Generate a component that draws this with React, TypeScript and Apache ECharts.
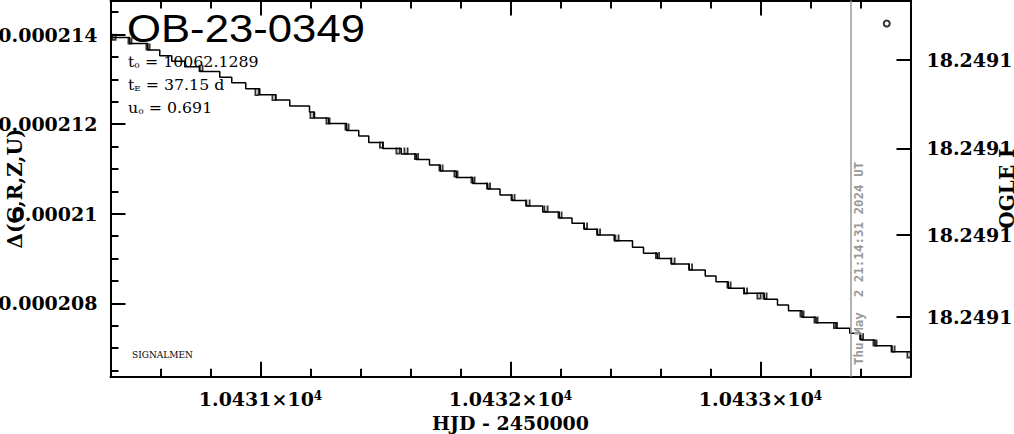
import React, { useEffect, useRef } from 'react';
import * as echarts from 'echarts';

// ---- data ----
const eventName = 'OB-23-0349';
const paramLines: [string, string, string][] = [
  ['t', '0', ' = 10062.1289'],
  ['t', 'E', ' = 37.15 d'],
  ['u', '0', ' = 0.691'],
];
const creditText = 'SIGNALMEN';
const nowDay = 10433.357;
const nowLabel = 'Thu May  2 21:14:31 2024 UT';
const xAxisTitle = 'HJD - 2450000';
const yAxisTitle = 'Δ(G,R,Z,U)';
const rightAxisTitle = 'OGLE I';

// model curve (quantised, drawn as steps): start day of each level and its value
const stepDays = [
  10430.4, 10430.477, 10430.549, 10430.597, 10430.645, 10430.697, 10430.757, 10430.837,
  10430.885, 10430.941, 10430.997, 10431.061, 10431.117, 10431.196, 10431.216, 10431.272,
  10431.344, 10431.393, 10431.433, 10431.489, 10431.563, 10431.623, 10431.676, 10431.719,
  10431.783, 10431.849, 10431.909, 10431.958, 10432.006, 10432.062, 10432.129, 10432.195,
  10432.246, 10432.295, 10432.348, 10432.415, 10432.488, 10432.532, 10432.587, 10432.643,
  10432.715, 10432.779, 10432.822, 10432.871, 10432.935, 10433.015, 10433.068, 10433.112,
  10433.166, 10433.222, 10433.302, 10433.357, 10433.401, 10433.458, 10433.526, 10433.6,
];
const stepFlux = [
  0.000213935, 0.000213801, 0.000213652, 0.000213529, 0.000213406, 0.000213283, 0.000213172, 0.000213049,
  0.000212926, 0.000212792, 0.000212658, 0.000212536, 0.000212402, 0.000212268, 0.000212134, 0.000212011,
  0.000211855, 0.000211732, 0.000211592, 0.000211458, 0.00021133, 0.000211212, 0.000211085, 0.000210951,
  0.00021081, 0.000210676, 0.000210549, 0.000210415, 0.000210297, 0.00021017, 0.000210036, 0.000209902,
  0.000209784, 0.00020965, 0.000209522, 0.000209395, 0.000209248, 0.000209114, 0.000209002, 0.000208875,
  0.000208741, 0.000208607, 0.00020848, 0.000208333, 0.000208221, 0.000208087, 0.00020796, 0.000207833,
  0.000207685, 0.000207565, 0.00020744, 0.000207328, 0.000207179, 0.000207051, 0.000206917, 0.000206917,
];

// small data marks sitting on the steps
const markDays = [
  10430.414, 10430.478, 10430.55, 10430.762, 10430.986, 10431.054, 10431.206, 10431.27,
  10431.346, 10431.484, 10431.55, 10431.582, 10431.624, 10431.722, 10431.782, 10431.85,
  10431.912, 10432.01, 10432.07, 10432.142, 10432.198, 10432.3, 10432.352, 10432.426,
  10432.588, 10432.65, 10432.72, 10432.874, 10432.94, 10432.994, 10433.018, 10433.166,
  10433.222, 10433.3, 10433.404, 10433.458, 10433.53, 10433.594,
];
const markFlux = [
  0.000213942, 0.000213853, 0.000213719, 0.00021325, 0.000212703, 0.000212592, 0.00021219, 0.000212067,
  0.000211933, 0.000211531, 0.000211397, 0.000211397, 0.000211275, 0.000211018, 0.000210884, 0.00021075,
  0.000210616, 0.000210359, 0.000210237, 0.000210103, 0.000209969, 0.000209723, 0.000209589, 0.000209455,
  0.000209065, 0.000208942, 0.000208808, 0.000208406, 0.000208272, 0.000208161, 0.000208161, 0.000207759,
  0.000207625, 0.000207502, 0.000207257, 0.000207112, 0.000206978, 0.000206844,
];

const latestPoint: [number, number] = [10433.505, 0.000214248];

// axes
const xMin = 10430.4;
const xMax = 10433.6;
const yMin = 0.00020636;
const yMax = 0.00021476;
const xMajorTicks = [10431, 10432, 10433];
const xMinorTicks = [
  10430.6, 10430.8, 10431.2, 10431.4, 10431.6, 10431.8,
  10432.2, 10432.4, 10432.6, 10432.8, 10433.2, 10433.4,
];
const yMajorTicks = [0.000208, 0.00021, 0.000212, 0.000214];
const yMinorTicks = [
  0.0002065, 0.000207, 0.0002075, 0.0002085, 0.000209, 0.0002095, 0.0002105,
  0.000211, 0.0002115, 0.0002125, 0.000213, 0.0002135, 0.0002145,
];
const magMin = 18.24905;
const magMax = 18.24915;
const magTicks = [18.2490658, 18.2490893, 18.2491123, 18.2491341];

// ---- styles ----
const SERIF = "'DejaVu Serif', serif";
const BLACK = '#000';
const tickLine = { color: BLACK, width: 2 };
const labelFont = { fontFamily: SERIF, fontWeight: 'bold' as const, fontSize: 19, color: BLACK };

const markSymbol = 'path://M0,0h2.2v8h-2.2zM3.8,0h2.2v8h-2.2zM0,6h6v2h-6z';

function buildOption(): any {
  const lineData = stepDays.map((d, i) => [d, stepFlux[i]]);
  const markData = markDays.map((d, i) => [d, markFlux[i]]);

  const baseX = { type: 'value', min: xMin, max: xMax, splitLine: { show: false } };
  const baseY = { type: 'value', min: yMin, max: yMax, splitLine: { show: false } };

  return {
    animation: false,
    backgroundColor: '#fff',
    grid: {
      left: 110.5,
      right: 103.5,
      top: 0.5,
      bottom: 57.3,
      containLabel: false,
      outerBoundsMode: 'none',
    },
    xAxis: [
      {
        ...baseX,
        position: 'bottom',
        axisLine: { show: true, onZero: false, lineStyle: { color: BLACK, width: 2 } },
        axisTick: { show: true, inside: true, length: 15, customValues: xMajorTicks, lineStyle: tickLine },
        axisLabel: {
          show: true,
          customValues: xMajorTicks,
          margin: 13,
          formatter: (v: number) => `{m|${(v / 1e4).toFixed(4)}×10}{e|4}`,
          rich: {
            m: { ...labelFont },
            e: { fontFamily: SERIF, fontWeight: 'bold', fontSize: 12, color: BLACK, verticalAlign: 'top' },
          },
        },
        name: xAxisTitle,
        nameLocation: 'middle',
        nameGap: 37,
        nameMoveOverlap: false,
        nameTextStyle: { ...labelFont },
      },
      {
        ...baseX,
        position: 'bottom',
        axisLine: { show: false },
        axisTick: { show: true, inside: true, length: 8, customValues: xMinorTicks, lineStyle: tickLine },
        axisLabel: { show: false },
      },
      {
        ...baseX,
        position: 'top',
        axisLine: { show: true, onZero: false, lineStyle: { color: BLACK, width: 2 } },
        axisTick: { show: true, inside: true, length: 15, customValues: xMajorTicks, lineStyle: tickLine },
        axisLabel: { show: false },
      },
      {
        ...baseX,
        position: 'top',
        axisLine: { show: false },
        axisTick: { show: true, inside: true, length: 8, customValues: xMinorTicks, lineStyle: tickLine },
        axisLabel: { show: false },
      },
    ],
    yAxis: [
      {
        ...baseY,
        position: 'left',
        axisLine: { show: true, onZero: false, lineStyle: { color: BLACK, width: 2 } },
        axisTick: { show: true, inside: true, length: 15, customValues: yMajorTicks, lineStyle: tickLine },
        axisLabel: {
          show: true,
          customValues: yMajorTicks,
          margin: 13,
          formatter: (v: number) => String(v),
          ...labelFont,
        },
        name: yAxisTitle,
        nameLocation: 'middle',
        nameRotate: 90,
        nameGap: 86,
        nameMoveOverlap: false,
        nameTextStyle: { ...labelFont, fontSize: 20 },
      },
      {
        ...baseY,
        position: 'left',
        axisLine: { show: false },
        axisTick: { show: true, inside: true, length: 8, customValues: yMinorTicks, lineStyle: tickLine },
        axisLabel: { show: false },
      },
      {
        type: 'value',
        position: 'right',
        inverse: true,
        min: magMin,
        max: magMax,
        splitLine: { show: false },
        axisLine: { show: true, onZero: false, lineStyle: { color: BLACK, width: 2 } },
        axisTick: { show: true, inside: true, length: 14, customValues: magTicks, lineStyle: tickLine },
        axisLabel: {
          show: true,
          customValues: magTicks,
          margin: 16,
          formatter: (v: number) => v.toFixed(4),
          ...labelFont,
        },
        name: rightAxisTitle,
        nameLocation: 'middle',
        nameRotate: 90,
        nameGap: 86,
        nameMoveOverlap: false,
        nameTextStyle: { ...labelFont, fontSize: 20 },
      },
    ],
    series: [
      {
        type: 'line',
        step: 'end',
        xAxisIndex: 0,
        yAxisIndex: 0,
        data: lineData,
        showSymbol: false,
        symbol: 'none',
        clip: true,
        lineStyle: { color: BLACK, width: 1.5 },
        markLine: {
          silent: true,
          symbol: ['none', 'none'],
          label: { show: false },
          lineStyle: { color: '#999', width: 1.5, type: 'solid' },
          data: [{ xAxis: nowDay }],
        },
        z: 3,
      },
      {
        type: 'scatter',
        xAxisIndex: 0,
        yAxisIndex: 0,
        data: markData,
        symbol: markSymbol,
        symbolSize: [5, 7],
        itemStyle: { color: BLACK },
        z: 4,
      },
      {
        type: 'scatter',
        xAxisIndex: 0,
        yAxisIndex: 0,
        data: [latestPoint],
        symbol: 'circle',
        symbolSize: 6,
        itemStyle: { color: '#fff', borderColor: BLACK, borderWidth: 2 },
        z: 5,
      },
    ],
    graphic: [
      {
        type: 'text',
        x: 127,
        y: 29,
        scaleX: 1.15,
        z: 10,
        style: {
          text: eventName,
          fontFamily: "'Liberation Sans', sans-serif",
          fontSize: 38,
          fill: BLACK,
          align: 'left',
          verticalAlign: 'middle',
        },
      },
      ...paramLines.map((p, i) => ({
        type: 'text',
        x: 128,
        y: 62 + i * 23,
        scaleX: 1.09,
        z: 10,
        style: {
          text: `{v|${p[0]}}{s|${p[1]}}{v|${p[2]}}`,
          align: 'left',
          verticalAlign: 'middle',
          rich: {
            v: { fontFamily: SERIF, fontSize: 14.5, fill: BLACK, color: BLACK },
            s: { fontFamily: SERIF, fontSize: 8, fill: BLACK, color: BLACK, verticalAlign: 'bottom' },
          },
        },
      })),
      {
        type: 'text',
        x: 132,
        y: 355,
        z: 10,
        style: {
          text: creditText,
          fontFamily: SERIF,
          fontSize: 9,
          fill: BLACK,
          align: 'left',
          verticalAlign: 'middle',
        },
      },
      {
        type: 'text',
        x: 858.5,
        y: 365,
        rotation: Math.PI / 2,
        z: 10,
        style: {
          text: nowLabel,
          fontFamily: "'DejaVu Sans Mono', monospace",
          fontWeight: 'bold',
          fontSize: 12.5,
          fill: '#999',
          align: 'left',
          verticalAlign: 'middle',
        },
      },
    ],
  };
}

export default function App() {
  const ref = useRef<HTMLDivElement>(null);
  useEffect(() => {
    if (!ref.current) return;
    const chart = echarts.init(ref.current, null, { renderer: 'svg' });
    chart.setOption(buildOption());
    return () => chart.dispose();
  }, []);
  return (
    <div
      ref={ref}
      style={{ position: 'fixed', left: 0, top: 0, width: 1014, height: 434, background: '#fff' }}
    />
  );
}
